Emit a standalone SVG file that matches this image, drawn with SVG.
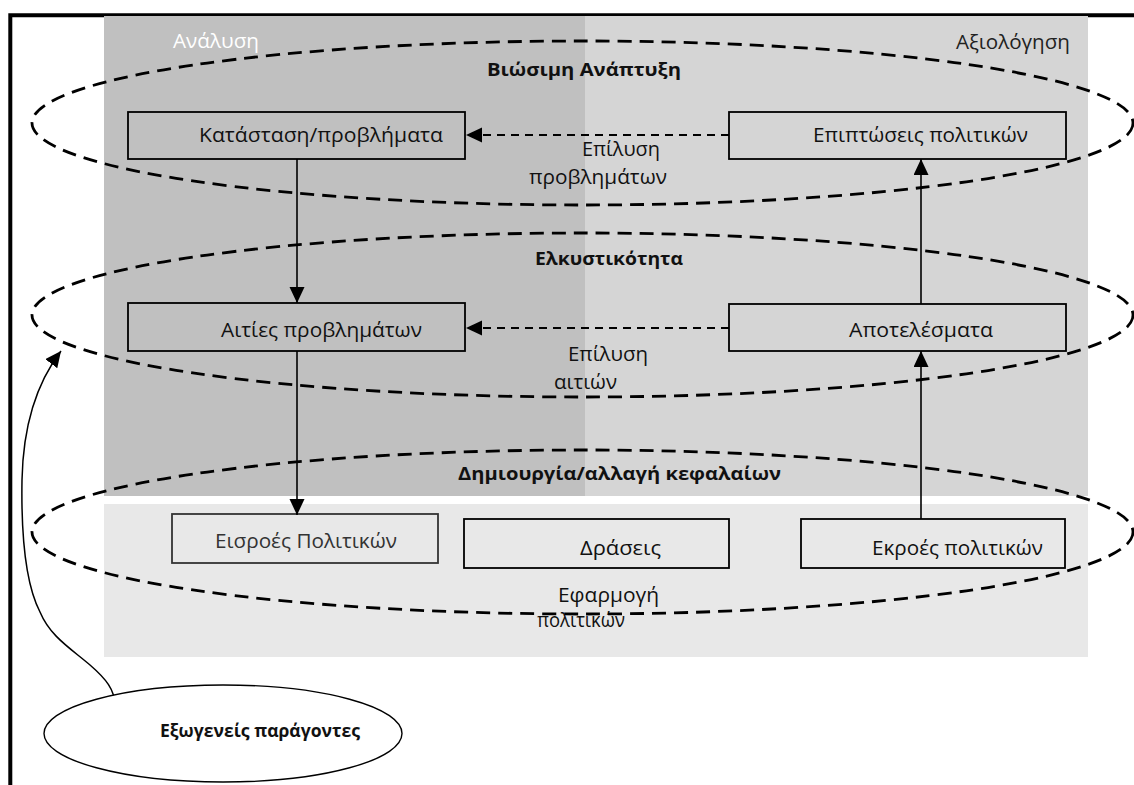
<svg xmlns="http://www.w3.org/2000/svg" width="1134" height="785" viewBox="0 0 1134 785">
<style>
  text { font-family: "Open Sans", "Noto Sans", "DejaVu Sans", sans-serif; font-size: 20.5px; fill: #111; }
  .b { font-weight: bold; font-size: 18.5px; }
  .box { fill: none; stroke: #000; stroke-width: 1.8; }
  .zone { fill: none; stroke: #000; stroke-width: 2.8; stroke-dasharray: 14 8; }
  .solid { fill: none; stroke: #000; stroke-width: 1.6; }
  .dash { fill: none; stroke: #000; stroke-width: 1.8; stroke-dasharray: 8 6; }
</style>
<defs>
  <marker id="ah" markerUnits="userSpaceOnUse" markerWidth="17" markerHeight="16" refX="16" refY="7.5" orient="auto">
    <path d="M0,0 L16,7.5 L0,15 z" fill="#000"/>
  </marker>
</defs>
<rect width="1134" height="785" fill="#fff"/>
<path d="M10.3,785 V15.3 H1134" fill="none" stroke="#000" stroke-width="4"/>
<g id="backgrounds">
  <rect x="104" y="16" width="481" height="480" fill="#c0c0c0"/>
  <rect x="585" y="16" width="503" height="480" fill="#d5d5d5"/>
  <rect x="104" y="504" width="984" height="153" fill="#e8e8e8"/>
  <text x="173" y="48" textLength="86" lengthAdjust="spacingAndGlyphs" style="fill:#fff">Ανάλυση</text>
  <text x="956" y="49" textLength="114" lengthAdjust="spacingAndGlyphs" style="fill:#222">Αξιολόγηση</text>
</g>
<g id="node-katastasi">
  <rect class="box" x="128" y="112" width="337" height="47"/>
  <text x="199" y="142" textLength="244" lengthAdjust="spacingAndGlyphs">Κατάσταση/προβλήματα</text>
</g>
<g id="node-epiptoseis">
  <rect class="box" x="729" y="112" width="337" height="47"/>
  <text x="813" y="142" textLength="215" lengthAdjust="spacingAndGlyphs">Επιπτώσεις πολιτικών</text>
</g>
<g id="node-aities">
  <rect class="box" x="128" y="303" width="337" height="48"/>
  <text x="221" y="337" textLength="201" lengthAdjust="spacingAndGlyphs">Αιτίες προβλημάτων</text>
</g>
<g id="node-apotelesmata">
  <rect class="box" x="729" y="304" width="337" height="47"/>
  <text x="849" y="337" textLength="144" lengthAdjust="spacingAndGlyphs">Αποτελέσματα</text>
</g>
<g id="node-eisroes">
  <rect class="box" x="172" y="514" width="266" height="49" style="stroke:#333"/>
  <text x="215" y="548" textLength="182" lengthAdjust="spacingAndGlyphs" style="fill:#333">Εισροές Πολιτικών</text>
</g>
<g id="node-draseis">
  <rect class="box" x="464" y="519" width="265" height="49"/>
  <text x="580" y="555" textLength="81" lengthAdjust="spacingAndGlyphs">Δράσεις</text>
</g>
<g id="node-ekroes">
  <rect class="box" x="801" y="519" width="264" height="49"/>
  <text x="872" y="555" textLength="171" lengthAdjust="spacingAndGlyphs">Εκροές πολιτικών</text>
</g>
<g id="labels">
  <text x="582" y="156" textLength="78" lengthAdjust="spacingAndGlyphs">Επίλυση</text>
  <text x="529" y="184" textLength="138" lengthAdjust="spacingAndGlyphs">προβλημάτων</text>
  <text x="568" y="361" textLength="80" lengthAdjust="spacingAndGlyphs">Επίλυση</text>
  <text x="554" y="389" textLength="63" lengthAdjust="spacingAndGlyphs">αιτιών</text>
  <text x="558" y="602" textLength="101" lengthAdjust="spacingAndGlyphs">Εφαρμογή</text>
  <text x="537" y="627" textLength="88" lengthAdjust="spacingAndGlyphs">πολιτικών</text>
</g>
<g id="connectors">
  <line class="solid" x1="297" y1="159" x2="297" y2="303" marker-end="url(#ah)"/>
  <line class="solid" x1="297" y1="351" x2="297" y2="515" marker-end="url(#ah)"/>
  <line class="solid" x1="921" y1="519" x2="921" y2="351" marker-end="url(#ah)"/>
  <line class="solid" x1="921" y1="304" x2="921" y2="159" marker-end="url(#ah)"/>
  <line class="dash" x1="729" y1="135" x2="466" y2="135" marker-end="url(#ah)"/>
  <line class="dash" x1="729" y1="328" x2="466" y2="328" marker-end="url(#ah)"/>
  <path class="solid" d="M115,708 C116,690 105,678 90,665 C70,648 50,636 40,612 C26,585 21,540 22,480 C23,430 35,385 61,351" style="stroke-width:1.5" marker-end="url(#ah)"/>
</g>
<g id="zone-viosimi">
  <ellipse class="zone" cx="582.5" cy="123" rx="550.5" ry="82"/>
  <text class="b" x="487" y="76" textLength="194" lengthAdjust="spacingAndGlyphs">Βιώσιμη Ανάπτυξη</text>
</g>
<g id="zone-elkystikotita">
  <ellipse class="zone" cx="582.5" cy="315" rx="550.5" ry="82"/>
  <text class="b" x="535" y="265" textLength="148" lengthAdjust="spacingAndGlyphs">Ελκυστικότητα</text>
</g>
<g id="zone-kefalaia">
  <ellipse class="zone" cx="582.5" cy="532" rx="550.5" ry="82"/>
  <text class="b" x="458" y="480" textLength="323" lengthAdjust="spacingAndGlyphs">Δημιουργία/αλλαγή κεφαλαίων</text>
</g>
<g id="node-exogeneis">
  <ellipse cx="223" cy="733.5" rx="179" ry="48.5" fill="#fff" stroke="#000" stroke-width="1.4"/>
  <text class="b" x="160" y="737" textLength="200" lengthAdjust="spacingAndGlyphs" style="font-size:18px">Εξωγενείς παράγοντες</text>
</g>
</svg>
